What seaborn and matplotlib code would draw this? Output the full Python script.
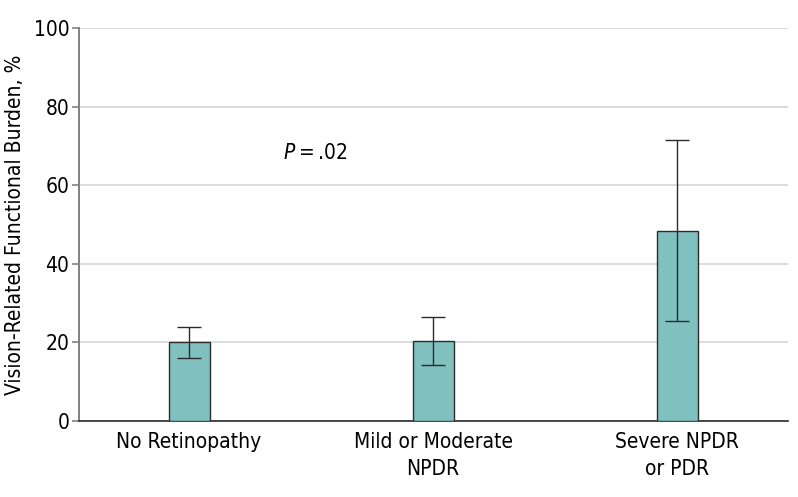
import matplotlib
matplotlib.use('Agg')
import matplotlib.pyplot as plt
import seaborn as sns
import pandas as pd
import numpy as np

groups = ['No Retinopathy', 'Mild or Moderate\nNPDR', 'Severe NPDR\nor PDR']
burden = [20.0, 20.4, 48.4]
ci_low = [16.1, 14.2, 25.4]
ci_high = [24.0, 26.4, 71.5]

frame = pd.DataFrame({'group': groups, 'burden': burden})

sns.set_style('white')
plt.rcParams['font.family'] = ['DejaVu Sans']
plt.rcParams['font.stretch'] = 'condensed'
plt.rcParams['text.color'] = 'black'
plt.rcParams['xtick.color'] = 'black'
plt.rcParams['ytick.labelcolor'] = 'black'
plt.rcParams['axes.labelcolor'] = 'black'

fig = plt.figure(figsize=(7.98, 4.97), dpi=100)
ax = fig.add_axes([0.099, 0.153, 0.8885, 0.79])

sns.barplot(data=frame, x='group', y='burden', color='#80c1bf',
            width=0.168, edgecolor='#2b2b2b', linewidth=1.0,
            saturation=1, ax=ax, zorder=3)

err = np.array([np.array(burden) - np.array(ci_low),
                np.array(ci_high) - np.array(burden)])
ax.errorbar(np.arange(len(groups)), burden, yerr=err, fmt='none',
            ecolor='#2b2b2b', elinewidth=1.0, capsize=8.5, capthick=1.0,
            zorder=4)

ax.set_ylim(0, 100)
ax.set_xlim(-0.451, 2.455)
ax.set_yticks([0, 20, 40, 60, 80, 100])
ax.yaxis.grid(True, color='#d9d9d9', linewidth=1.3, zorder=0)
ax.set_axisbelow(True)

ax.set_xlabel('')
ax.set_ylabel('Vision-Related Functional Burden, %', fontsize=15, labelpad=6)
ax.tick_params(axis='y', labelsize=15, length=5, width=1.2, color='#808080',
               left=True, pad=2)
ax.tick_params(axis='x', labelsize=15, length=0, pad=8)
for lbl in ax.get_xticklabels():
    lbl.set_linespacing(1.45)

sns.despine(ax=ax)
ax.spines['left'].set_color('#808080')
ax.spines['left'].set_linewidth(1.4)
ax.spines['bottom'].set_color('#2b2b2b')
ax.spines['bottom'].set_linewidth(1.2)

ax.text(0.385, 68.2, r'$P$' + '\u2009=\u2009.02', fontsize=15,
        va='center', ha='left')

fig.savefig('out.png', dpi=100)
